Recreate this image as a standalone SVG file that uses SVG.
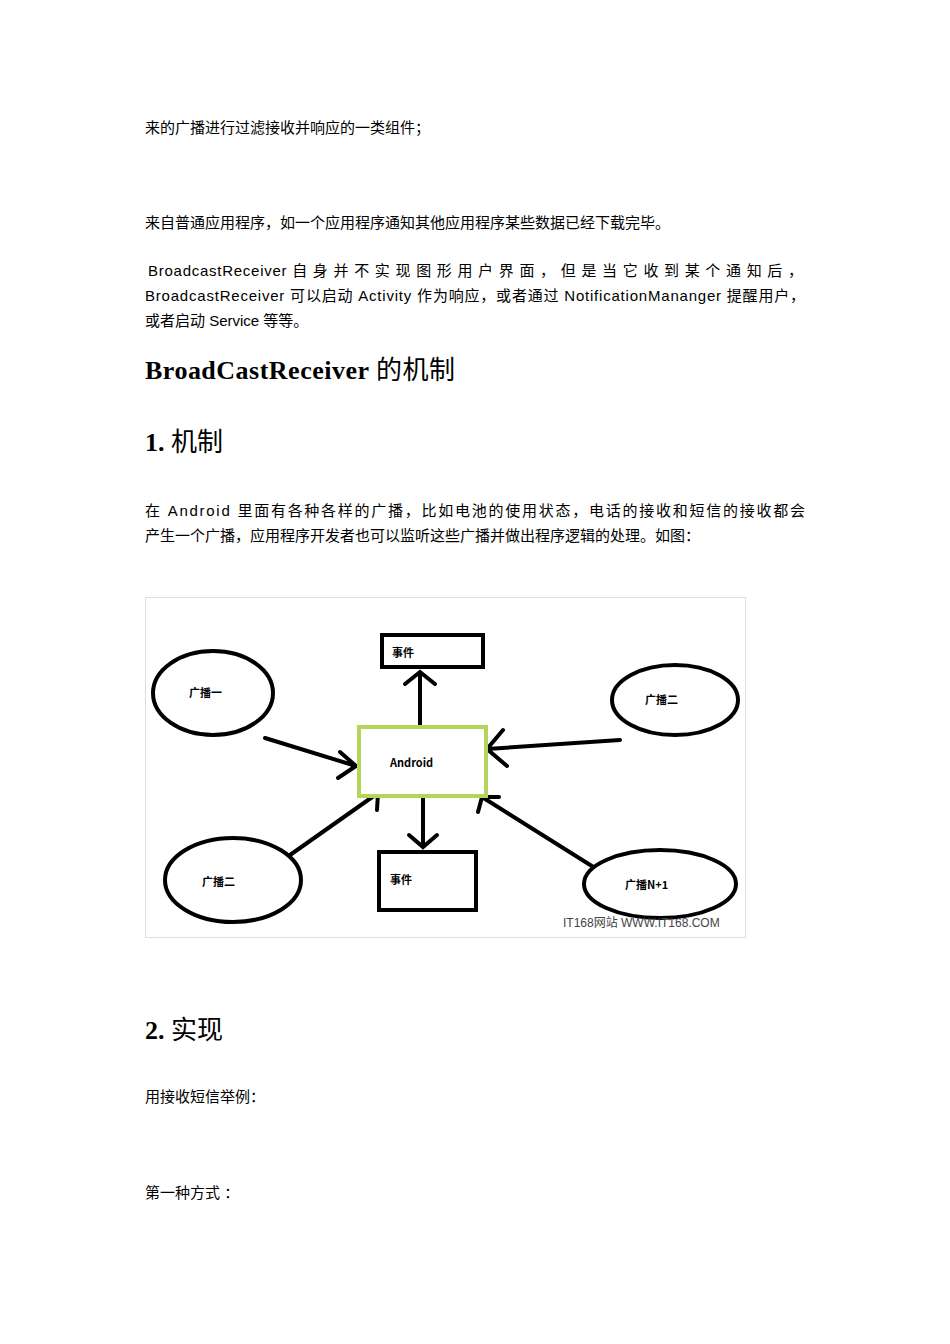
<svg xmlns="http://www.w3.org/2000/svg" width="950" height="1344" viewBox="0 0 950 1344">
<style>
.t{font-family:"Liberation Sans","Noto Sans CJK SC",sans-serif;font-size:15px;fill:#000}
.h{font-family:"Liberation Serif","Noto Sans CJK SC",serif;font-size:26px;font-weight:bold;fill:#000}
.n{fill:#fff;stroke:#000;stroke-width:4}
.l{font-family:"Noto Sans CJK SC",sans-serif;font-size:11px;font-weight:bold;fill:#000}
.c{stroke:#000;stroke-width:4;fill:none;stroke-linecap:round}
</style>
<rect width="950" height="1344" fill="#fff"/>
<text class="t" x="145" y="133">来的广播进行过滤接收并响应的一类组件；</text>
<text class="t" x="145" y="228">来自普通应用程序，如一个应用程序通知其他应用程序某些数据已经下载完毕。</text>
<text class="t" x="148" y="276" textLength="655" lengthAdjust="spacing">BroadcastReceiver  自 身 并 不 实 现 图 形 用 户 界 面 ， 但 是 当 它 收 到 某 个 通 知 后 ，</text>
<text class="t" x="145" y="301" textLength="660" lengthAdjust="spacing">BroadcastReceiver  可以启动  Activity  作为响应，或者通过  NotificationMananger  提醒用户，</text>
<text class="t" x="145" y="326">或者启动  Service  等等。</text>
<text class="h" x="145" y="379" textLength="310" lengthAdjust="spacing">BroadCastReceiver  <tspan font-weight="normal" font-family="Noto Sans CJK SC,sans-serif">的机制</tspan></text>
<text class="h" x="145" y="451">1.  <tspan font-weight="normal" font-family="Noto Sans CJK SC,sans-serif">机制</tspan></text>
<text class="t" x="145" y="516" textLength="660" lengthAdjust="spacing">在  Android  里面有各种各样的广播，比如电池的使用状态，电话的接收和短信的接收都会</text>
<text class="t" x="145" y="541">产生一个广播，应用程序开发者也可以监听这些广播并做出程序逻辑的处理。如图：</text>
<rect x="145.5" y="597.5" width="600" height="340" fill="#fff" stroke="#ddd"/>
<g id="connectors">
<path class="c" d="M265,738 L356,766 M340,752 L356,766 L338,778"/>
<path class="c" d="M620,740 L487,749 M503,730 L487,749 L507,766"/>
<path class="c" d="M290,855 L378,793 M360,795 L378,793 L377,810"/>
<path class="c" d="M595,868 L482,797 M478,812 L482,797 L499,797"/>
<path class="c" d="M420,744 L420,672 M405,684 L420,672 L435,684"/>
<path class="c" d="M423,797 L423,847 M409,835 L423,847 L437,835"/>
</g>
<g id="n1"><ellipse class="n" cx="213" cy="693" rx="60" ry="42"/><text class="l" x="189" y="697">广播一</text></g>
<g id="n2"><ellipse class="n" cx="675" cy="700" rx="63" ry="35"/><text class="l" x="645" y="704">广播二</text></g>
<g id="n3"><ellipse class="n" cx="233" cy="880" rx="68" ry="42"/><text class="l" x="202" y="886">广播二</text></g>
<g id="n4"><ellipse class="n" cx="660" cy="884" rx="76" ry="34"/><text class="l" x="625" y="889">广播N+1</text></g>
<g id="e1"><rect class="n" x="382" y="635" width="101" height="32"/><text class="l" x="392" y="657">事件</text></g>
<g id="a"><rect x="359" y="727" width="127" height="69" fill="#fff" stroke="#b5d55a" stroke-width="4"/><text class="l" x="390" y="767">Android</text></g>
<g id="e2"><rect class="n" x="379" y="852" width="97" height="58"/><text class="l" x="390" y="884">事件</text></g>
<text x="563" y="927" font-family="Liberation Sans,Noto Sans CJK SC,sans-serif" font-size="12" fill="#444">IT168网站 WWW.IT168.COM</text>
<text class="h" x="145" y="1039">2.  <tspan font-weight="normal" font-family="Noto Sans CJK SC,sans-serif">实现</tspan></text>
<text class="t" x="145" y="1102">用接收短信举例：</text>
<text class="t" x="145" y="1198">第一种方式 ：</text>
</svg>
